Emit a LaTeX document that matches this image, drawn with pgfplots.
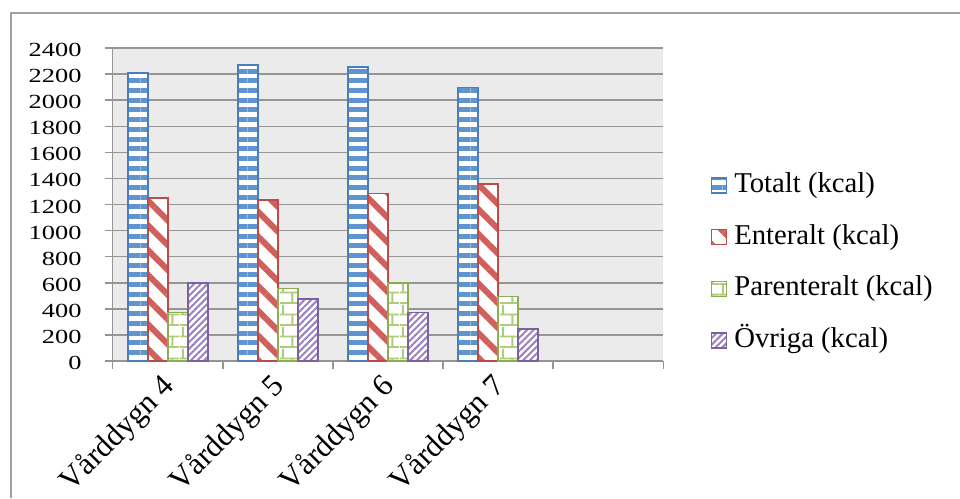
\documentclass[border=0pt]{standalone}
\usepackage{fontspec}
\setmainfont{Liberation Serif}
\usepackage{graphicx}
\usepackage{pgfplots}
\pgfplotsset{compat=1.18}
\usetikzlibrary{patterns,patterns.meta}

\definecolor{bluef}{HTML}{5F94CF}
\definecolor{blueb}{HTML}{4A7EBB}
\definecolor{redf}{HTML}{D0605C}
\definecolor{redb}{HTML}{BE4B48}
\definecolor{greenf}{HTML}{AFCB80}
\definecolor{greenb}{HTML}{8DAD50}
\definecolor{purplef}{HTML}{9A82C0}
\definecolor{purpleb}{HTML}{7D60A0}
\definecolor{axgray}{HTML}{959595}
\definecolor{bggray}{HTML}{EBEBEB}
\definecolor{framegray}{HTML}{A0A0A0}

\tikzdeclarepattern{
  name=bricks,
  type=uncolored,
  bounding box={(0pt,0pt) and (20pt,21.4pt)},
  tile size={(20pt,21.4pt)},
  code={
    \draw[line width=2pt] (0pt,1pt) -- (20pt,1pt);
    \draw[line width=2pt] (0pt,11.7pt) -- (20pt,11.7pt);
    \draw[line width=2pt] (13pt,1pt) -- (13pt,11.7pt);
    \draw[line width=2pt] (3pt,11.7pt) -- (3pt,21.4pt);
    \draw[line width=2pt] (3pt,0pt) -- (3pt,1pt);
  }
}

\pgfplotsset{
  mylegend/.style={legend image code/.code={\draw[##1, line width=1.2pt] (0pt,-7.5pt) rectangle (15pt,7.5pt);}},
}

\pgfplotstableread{
x totalt enteralt parenteralt ovriga
0 2210 1250 371 600
1 2268 1236 556 475
2 2254 1286 598 371
3 2096 1356 496 247
}\datatable

\begin{document}
\begin{tikzpicture}[x=1pt,y=1pt]
\begin{axis}[
  at={(0,0)}, anchor=south west,
  scale only axis, width=550.6pt, height=313pt,
  xmin=-0.5, xmax=4.5, ymin=0, ymax=2400,
  ybar=0pt, bar width=20pt,
  axis x line*=bottom, axis y line*=left,
  axis line style={draw=axgray, line width=1.5pt},
  axis background/.style={fill=bggray},
  ymajorgrids, grid style={draw=axgray, line width=1.5pt},
  tick align=outside,
  tick style={draw=axgray, line width=1.5pt},
  major tick length=8pt,
  ytick={0,200,...,2400},
  scaled y ticks=false,
  yticklabel={\scalebox{1.32}[1]{\pgfmathprintnumber[assume math mode=true,1000 sep={}]{\tick}}},
  yticklabel style={font=\fontsize{20}{20}\selectfont, anchor=east, inner sep=0pt, xshift=-23pt, yshift=-2pt},
  xtick={-0.5,0.5,...,4.5},
  x tick label as interval,
  xticklabels={Vårddygn 4,Vårddygn 5,Vårddygn 6,Vårddygn 7,{}},
  xticklabel style={font=\fontsize{31}{32}\selectfont, xshift=-8pt, rotate=45, anchor=north east, inner sep=2pt},
  legend style={at={(1.081,0.313)}, anchor=west, draw=none, fill=none,
    font=\fontsize{28.7}{30}\selectfont, legend cell align=left,
    row sep=25.6pt, nodes={inner sep=0pt, text height=20pt, text depth=6pt},
    /tikz/every odd column/.append style={column sep=7pt}},
]
\addplot[draw=blueb, line width=1.5pt, preaction={fill=white}, pattern={Lines[angle=0,distance=9.7pt,line width=5pt]}, pattern color=bluef, mylegend] table[x=x, y=totalt] {\datatable};
\addlegendentry{Totalt (kcal)}
\addplot[draw=redb, line width=1.5pt, preaction={fill=white}, pattern={Lines[angle=-45,distance=17.5pt,line width=6pt]}, pattern color=redf, mylegend] table[x=x, y=enteralt] {\datatable};
\addlegendentry{Enteralt (kcal)}
\addplot[draw=greenb, line width=1.5pt, preaction={fill=white}, pattern=bricks, pattern color=greenf, mylegend] table[x=x, y=parenteralt] {\datatable};
\addlegendentry{Parenteralt (kcal)}
\addplot[draw=purpleb, line width=1.5pt, preaction={fill=white}, pattern={Lines[angle=45,distance=4.7pt,line width=2pt]}, pattern color=purplef, mylegend] table[x=x, y=ovriga] {\datatable};
\addlegendentry{Övriga (kcal)}
\coordinate (O) at (rel axis cs:0,0);
\end{axis}
\pgfresetboundingbox
\begin{scope}[shift={(O)}]
\path[use as bounding box] (-112.7,-137) rectangle (847.3,361);
\draw[framegray, line width=1.5pt] (-101.7,-137) -- (-101.7,348) -- (847.3,348);
\end{scope}
\end{tikzpicture}
\end{document}
